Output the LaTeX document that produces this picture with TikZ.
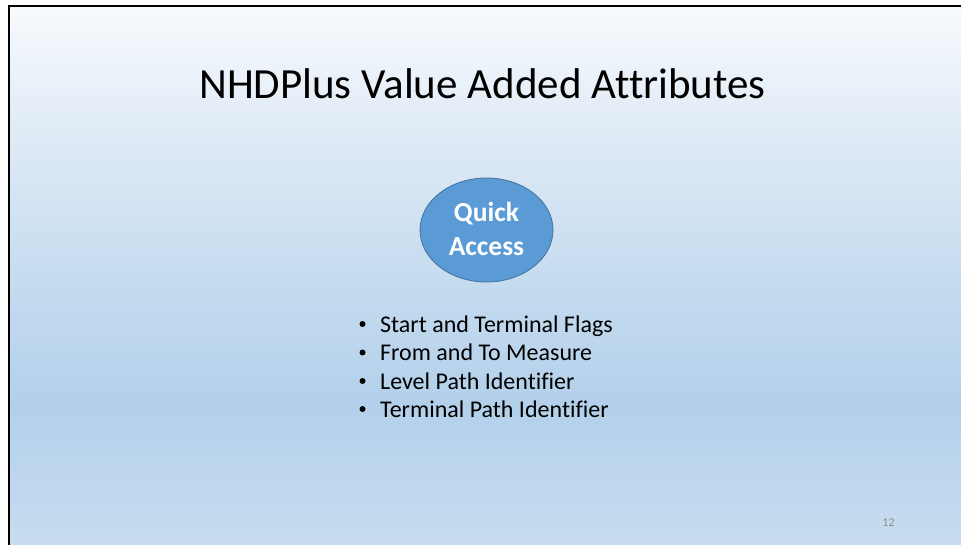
\documentclass[tikz,border=0pt]{standalone}
\usepackage{fontspec}
\setmainfont{Carlito}[Ligatures={NoCommon}]
\usetikzlibrary{shapes.geometric}
\definecolor{bgA}{HTML}{F7FAFD}
\definecolor{bgB}{HTML}{DDE9F5}
\definecolor{bgC}{HTML}{C6DCF0}
\definecolor{bgD}{HTML}{B3D0EA}
\definecolor{bgE}{HTML}{C7DCF0}
\definecolor{ovalfill}{HTML}{5B9BD5}
\definecolor{ovaldraw}{HTML}{41719C}
\definecolor{pagenum}{HTML}{8C8C8C}
\pgfdeclareverticalshading{slidebg}{100bp}{%
  color(0bp)=(bgE); color(25bp)=(bgE); color(38bp)=(bgD); color(50bp)=(bgC);
  color(62bp)=(bgB); color(75bp)=(bgA); color(100bp)=(bgA)}
\tikzset{
  titletext/.style={font=\fontsize{43}{50}\selectfont, anchor=base, inner sep=0pt},
  oval/.style={ellipse, fill=ovalfill, draw=ovaldraw, line width=0.8pt,
    minimum width=133pt, minimum height=104pt, inner sep=0pt},
  ovaltext/.style={font=\bfseries\fontsize{27.5}{32}\selectfont, text=white, anchor=base, inner sep=0pt},
  bullettext/.style={font=\fontsize{24}{28.4}\selectfont, anchor=base west, inner sep=0pt},
  bulletmark/.style={circle, fill=black, inner sep=0pt, minimum size=6pt},
  pagetext/.style={font=\fontsize{12}{14}\selectfont, text=pagenum, anchor=base, inner sep=0pt}
}
\begin{document}
\begin{tikzpicture}[x=1pt,y=-1pt]
\useasboundingbox (0,0) rectangle (961,545);
\fill[white] (0,0) rectangle (961,545);
\shade[shading=slidebg] (9,6) rectangle (961,545);
\draw[line width=2pt] (9,545) -- (9,6) -- (961,6);
\node[titletext] (title) at (482.5,99) {NHDPlus Value Added Attributes};
\node[oval] (qa) at (486.5,230) {};
\node[ovaltext] (qt1) at (486.5,221.5) {Quick};
\node[ovaltext] (qt2) at (486.5,256) {Access};
\node[bullettext] (b1) at (380,332) {Start and Terminal Flags};
\node[bullettext] (b2) at (380,360.5) {From and To Measure};
\node[bullettext] (b3) at (380,389) {Level Path Identifier};
\node[bullettext] (b4) at (380,417) {Terminal Path Identifier};
\node[bulletmark] (m1) at (362.5,324) {};
\node[bulletmark] (m2) at (362.5,352.5) {};
\node[bulletmark] (m3) at (362.5,381) {};
\node[bulletmark] (m4) at (362.5,409) {};
\node[pagetext] (pn) at (888.5,526.5) {12};
\end{tikzpicture}
\end{document}
